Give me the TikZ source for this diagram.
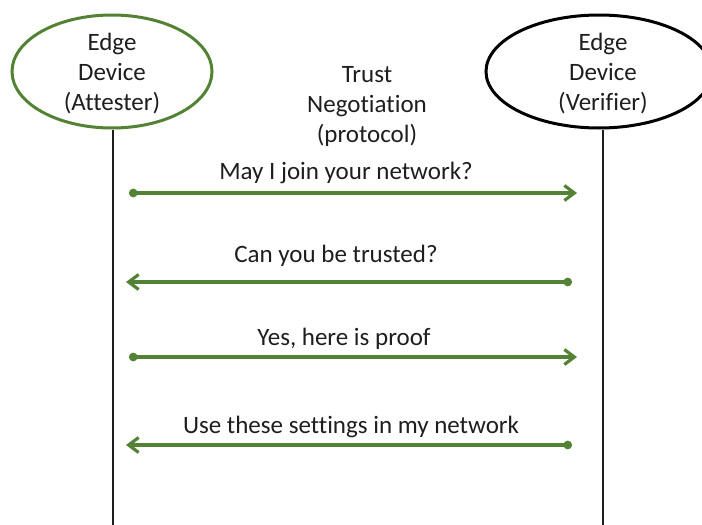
\documentclass[tikz,border=0pt]{standalone}
\usepackage{fontspec}
\setmainfont[Ligatures=NoCommon]{Carlito}
\usetikzlibrary{shapes.geometric,arrows.meta}
\definecolor{msggreen}{RGB}{84,130,53}
\definecolor{inkgray}{RGB}{30,30,30}
\begin{document}
\begin{tikzpicture}[x=1pt,y=-1pt,
  txt/.style={font=\fontsize{25}{30}\selectfont, text=inkgray, inner sep=0pt, align=center},
  party/.style={ellipse, line width=3pt, inner sep=0pt},
  lifeline/.style={draw=inkgray, line width=2.6pt},
  msg/.style={draw=msggreen, line width=3.2pt,
    {Circle[length=8.5pt]}-{Straight Barb[length=10pt,width=15pt]}},
]
\useasboundingbox (0,0) rectangle (702,525);
\clip (0,0) rectangle (702,525);

% the two parties
\node[party, draw=msggreen, minimum width=200pt, minimum height=113pt] (att) at (112,71.5) {};
\node[txt] (atttxt) at (112,74) {Edge\\Device\\(Attester)};
\node[party, draw=black, minimum width=226pt, minimum height=113pt] (ver) at (599,71.5) {};
\node[txt] (vertxt) at (603,74) {Edge\\Device\\(Verifier)};

\node[txt] (proto) at (367,106) {Trust\\Negotiation\\(protocol)};

% lifelines
\coordinate (attend) at (113,525);
\coordinate (verend) at (603,525);
\draw[lifeline] (att.south -| attend) -- (attend);
\draw[lifeline] (ver.south -| verend) -- (verend);

% messages
\node[txt, anchor=base] (l1) at (346,179) {May I join your network?};
\node[txt, anchor=base] (l2) at (336,262) {Can you be trusted?};
\node[txt, anchor=base] (l3) at (344,345) {Yes, here is proof};
\node[txt, anchor=base] (l4) at (351,433) {Use these settings in my network};

\coordinate (m1a) at (129,193);
\coordinate (m1b) at (577,193);
\coordinate (m2a) at (572,282);
\coordinate (m2b) at (126,282);
\coordinate (m3a) at (129,357);
\coordinate (m3b) at (577,357);
\coordinate (m4a) at (572,445);
\coordinate (m4b) at (126,445);

\draw[msg] (m1a) -- (m1b);
\draw[msg] (m2a) -- (m2b);
\draw[msg] (m3a) -- (m3b);
\draw[msg] (m4a) -- (m4b);
\end{tikzpicture}
\end{document}
